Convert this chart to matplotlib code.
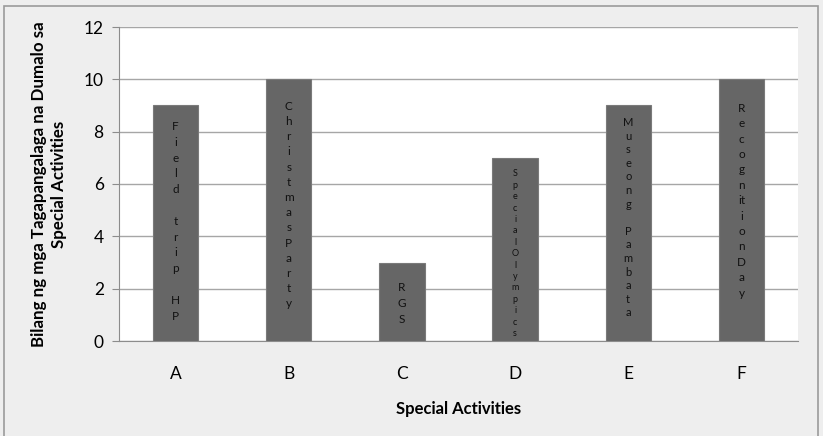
import matplotlib.pyplot as plt
from matplotlib.patches import Rectangle

plt.rcParams['font.family'] = ['Lato', 'DejaVu Sans']

# Bilang ng dumalo sa bawat special activity
kategorya = ['A', 'B', 'C', 'D', 'E', 'F']
bilang = [9, 10, 3, 7, 9, 10]
# mga pangalan na nakasulat pababa sa loob ng bar (isang linya bawat titik)
pangalan = [
    ['F', 'i', 'e', 'l', 'd', '', 't', 'r', 'i', 'p', '', 'H', 'P'],
    list('ChristmasParty'),
    list('RGS'),
    list('SpecialOlympics'),
    list('Museong') + [''] + list('Pambata'),
    ['R', 'e', 'c', 'o', 'g', 'n', 'it', 'i', 'o', 'n', 'D', 'a', 'y'],
]

# agwat mula sa tuktok ng bar at pagitan ng bawat titik (pixels)
unang_agwat = [20, 26, 24, 15, 16, 28]
pagitan = [15.8, 15.2, 16.0, 11.4, 13.6, 15.4]
laki_titik = [8.5, 8.5, 8.5, 6.5, 8.0, 8.5]

fig = plt.figure(figsize=(8.23, 4.36), dpi=100)
fig.patch.set_facecolor('#eeeeee')
px = 72 / fig.dpi

# kulay-abong border ng buong chart
fig.patches.append(Rectangle((4 / 823, -0.05), 814 / 823, 1.05 - 6 / 436,
                             transform=fig.transFigure, fill=False,
                             edgecolor='#9a9a9a', linewidth=1.2))

ax = fig.add_axes([119 / 823, 95 / 436, 679 / 823, 314 / 436])
ax.set_facecolor('white')

x = range(len(kategorya))
ax.bar(x, bilang, width=0.4, color='#666666', edgecolor='#7a7a7a',
       linewidth=0.8, zorder=3)

# mga titik na nakasalansan pababa
for i, (v, lines) in enumerate(zip(bilang, pangalan)):
    for k, ch in enumerate(lines):
        if not ch:
            continue
        dy = -(unang_agwat[i] + k * pagitan[i]) * px
        ax.annotate(ch, xy=(i, v), xytext=(0, dy), textcoords='offset points',
                    ha='center', va='center_baseline', fontsize=laki_titik[i],
                    color='#111111', zorder=4)

ax.set_ylim(0, 12)
ax.set_xlim(-0.5, len(kategorya) - 0.5)
ax.set_yticks(range(0, 13, 2))
ax.set_xticks(list(x))
ax.set_xticklabels(kategorya)
ax.yaxis.grid(True, color='#a6a6a6', linewidth=1.0, zorder=0)
ax.set_axisbelow(True)

for s in ['top', 'right']:
    ax.spines[s].set_visible(False)
ax.spines['left'].set_color('#8c8c8c')
ax.spines['bottom'].set_color('#8c8c8c')
ax.tick_params(axis='y', length=5, color='#8c8c8c', labelsize=12.5, pad=6)
ax.tick_params(axis='x', length=0, labelsize=12.5, pad=18)

ax.set_xlabel('Special Activities', fontsize=12, fontweight='bold', labelpad=14)
ax.set_ylabel('Bilang ng mga Tagapangalaga na Dumalo sa\nSpecial Activities',
              fontsize=12.2, fontweight='bold', labelpad=12, linespacing=1.3)

fig.savefig('out.png', dpi=100, facecolor=fig.get_facecolor())
